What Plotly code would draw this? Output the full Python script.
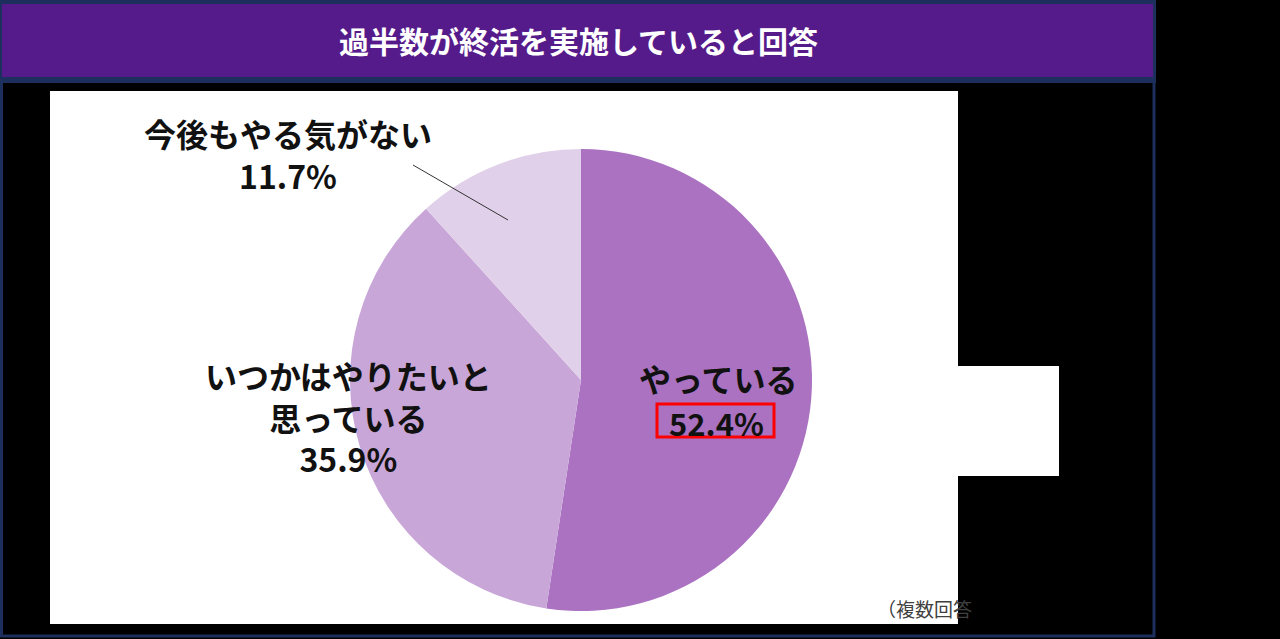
import plotly.graph_objects as go

# chart data
labels = ["やっている", "いつかはやりたいと思っている", "今後もやる気がない"]
values = [52.4, 35.9, 11.7]
colors = ["#aa72c1", "#c9a6d8", "#e1d0e9"]
title = "過半数が終活を実施していると回答"
note = "（複数回答"

W, H = 1280, 639
FONT = "Noto Sans CJK JP"


def px(x):
    return x / W


def py(y):
    return 1 - y / H


fig = go.Figure()

# pie, centred around (581, 380) px
cx, cy, r = 581, 380, 231
fig.add_trace(go.Pie(
    labels=labels,
    values=values,
    marker=dict(colors=colors, line=dict(width=0)),
    sort=False,
    direction="clockwise",
    rotation=0,
    textinfo="none",
    hoverinfo="label+percent",
    showlegend=False,
    domain=dict(x=[px(cx - r), px(cx + r)], y=[py(cy + r), py(cy - r)]),
))

shapes = []
# outer navy frame
shapes.append(dict(type="rect", xref="paper", yref="paper",
                   x0=px(1.5), x1=px(1154), y0=py(636), y1=py(80),
                   line=dict(color="#1d2f5c", width=3), fillcolor="rgba(0,0,0,0)", layer="below"))
# title bar
shapes.append(dict(type="rect", xref="paper", yref="paper",
                   x0=px(0), x1=px(1156), y0=py(83), y1=py(0),
                   line=dict(width=0), fillcolor="#1d2f5c", layer="below"))
shapes.append(dict(type="rect", xref="paper", yref="paper",
                   x0=px(2), x1=px(1153), y0=py(77), y1=py(4),
                   line=dict(width=0), fillcolor="#561b8b", layer="below"))
# white chart area
shapes.append(dict(type="rect", xref="paper", yref="paper",
                   x0=px(50), x1=px(958), y0=py(624), y1=py(91),
                   line=dict(width=0), fillcolor="white", layer="below"))
shapes.append(dict(type="rect", xref="paper", yref="paper",
                   x0=px(957), x1=px(1059), y0=py(476), y1=py(366),
                   line=dict(width=0), fillcolor="white", layer="below"))
# leader line for the small slice
shapes.append(dict(type="line", xref="paper", yref="paper",
                   x0=px(413), x1=px(508), y0=py(165), y1=py(220),
                   line=dict(color="#333333", width=1)))
# red highlight box
shapes.append(dict(type="rect", xref="paper", yref="paper",
                   x0=px(657), x1=px(774), y0=py(437), y1=py(404),
                   line=dict(color="#ff0000", width=3), fillcolor="rgba(0,0,0,0)"))

label_font = dict(family=FONT, size=32, color="#111111")
num_font = dict(family=FONT, size=31, color="#111111")


def note_at(text, x, y, font, **kw):
    d = dict(text=text, x=px(x), y=py(y), xref="paper", yref="paper",
             xanchor="center", yanchor="middle", showarrow=False, font=font)
    d.update(kw)
    return d


ann = []
ann.append(note_at("<b>" + title + "</b>", 578, 40, dict(family=FONT, size=30, color="white")))
ann.append(note_at("<b>" + labels[0] + "</b>", 718, 378, label_font))
ann.append(note_at("<b>%.1f%%</b>" % values[0], 716, 422, num_font))
ann.append(note_at("<b>いつかはやりたいと<br>思っている<br>%.1f%%</b>" % values[1],
                   348, 416, label_font, align="center"))
ann.append(note_at("<b>%s<br>%.1f%%</b>" % (labels[2], values[2]),
                   288, 154, label_font, align="center"))
ann.append(note_at(note, 875, 608, dict(family=FONT, size=19, color="#404040"), xanchor="left"))

fig.update_layout(
    width=W, height=H,
    margin=dict(l=0, r=0, t=0, b=0),
    paper_bgcolor="black",
    plot_bgcolor="black",
    shapes=shapes,
    annotations=ann,
)

fig.write_html("out.html", config={"displayModeBar": False},
               post_script="document.body.style.margin='0';")
